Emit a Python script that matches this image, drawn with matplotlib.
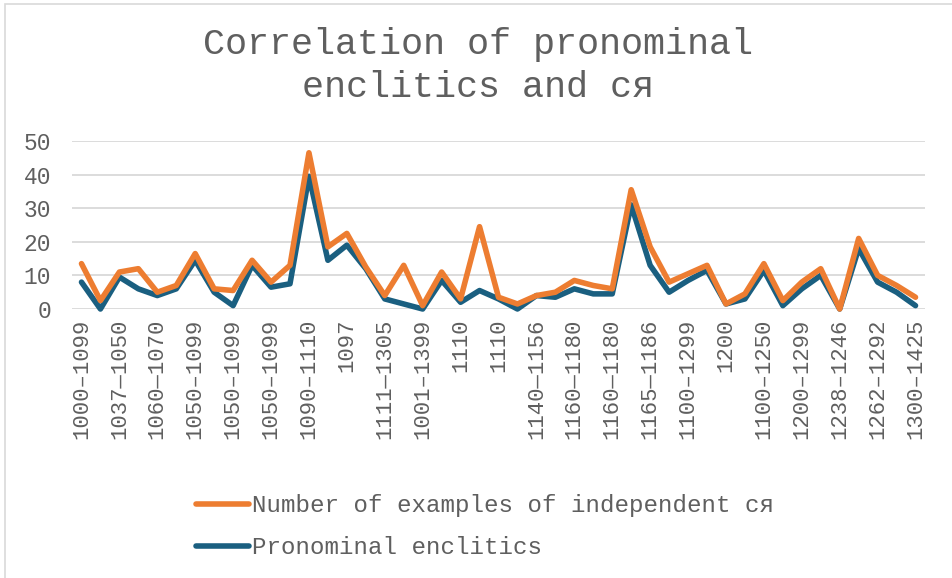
import matplotlib.pyplot as plt
from matplotlib.patches import Rectangle
from matplotlib.lines import Line2D

plt.rcParams['font.family'] = ['Liberation Mono', 'DejaVu Sans Mono']

# --- data (45 date ranges; only every other label is shown on the axis)
shown_labels = [
    "1000–1099", "1037—1050", "1060—1070", "1050–1099", "1050–1099",
    "1050–1099", "1090–1110", "1097", "1111—1305", "1001–1399",
    "1110", "1110", "1140—1156", "1160—1180", "1160—1180",
    "1165—1186", "1100–1299", "1200", "1100–1250", "1200–1299",
    "1238–1246", "1262–1292", "1300–1425",
]

independent_sja = [
    13.5, 2.5, 11, 12, 5, 7, 16.5, 6, 5.5, 14.5,
    8, 13, 46.5, 18.5, 22.5, 12.5, 4, 13, 1, 11,
    3, 24.5, 3.5, 1.5, 4, 5, 8.5, 7, 6, 35.5,
    18.5, 8, 10.5, 13, 1.5, 4.5, 13.5, 2.5, 8, 12,
    0, 21, 10, 7, 3.5,
]

pronominal = [
    8, 0, 9.5, 6, 4, 6, 14.5, 5, 1, 13,
    6.5, 7.5, 39.5, 14.5, 19, 12, 3, 1.5, 0, 8.5,
    2, 5.5, 3, 0, 4, 3.5, 6, 4.5, 4.5, 31,
    13, 5, 8.5, 11.5, 1.5, 3, 11.5, 1, 6, 10,
    0, 18, 8, 5, 1,
]

orange = "#ED7D31"
blue = "#1A5F80"
text_color = "#5f5f5f"

fig = plt.figure(figsize=(9.52, 5.78), dpi=100)
fig.patch.set_facecolor("white")

# chart-area border (only left / top visible in the crop)
fig.patches.append(Rectangle((5 / 952, -0.1), 1.2, 1 - 4 / 578 + 0.1,
                             transform=fig.transFigure, fill=False,
                             edgecolor="#D9D9D9", lw=1.2))

ax = fig.add_axes([72 / 952, 1 - 309 / 578, (925 - 72) / 952, (309 - 141) / 578])

x = list(range(len(pronominal)))
ax.plot(x, pronominal, color=blue, lw=4, solid_joinstyle="round",
        solid_capstyle="round", clip_on=False, zorder=3)
ax.plot(x, independent_sja, color=orange, lw=4, solid_joinstyle="round",
        solid_capstyle="round", clip_on=False, zorder=4)

ax.set_xlim(-0.5, len(x) - 0.5)
ax.set_ylim(0, 50)
ax.set_yticks(range(0, 51, 10))
ax.set_xticks(x[::2])
ax.set_xticklabels(shown_labels, rotation=90, fontsize=16, color=text_color)
ax.tick_params(axis="y", labelsize=16.5, labelcolor=text_color, length=0, pad=15)
ax.tick_params(axis="x", length=0, pad=7)

ax.grid(axis="y", color="#D9D9D9", lw=1.3)
ax.set_axisbelow(True)
for s in ax.spines.values():
    s.set_visible(False)

fig.text(478 / 952, 1 - 66 / 578, "Correlation of pronominal\nenclitics and ся",
         ha="center", va="center", fontsize=26.5, color=text_color,
         linespacing=1.3)

handles = [Line2D([], [], color=orange, lw=4, solid_capstyle="round"),
           Line2D([], [], color=blue, lw=4, solid_capstyle="round")]
fig.legend(handles, ["Number of examples of independent ся", "Pronominal enclitics"],
           loc="upper left", bbox_to_anchor=(196 / 952, 1 - 494 / 578),
           frameon=False, fontsize=17.4, labelcolor=text_color,
           handlelength=2.2, handletextpad=0.1, labelspacing=0.8,
           borderpad=0, borderaxespad=0)

fig.savefig("out.png", dpi=100, facecolor="white")
